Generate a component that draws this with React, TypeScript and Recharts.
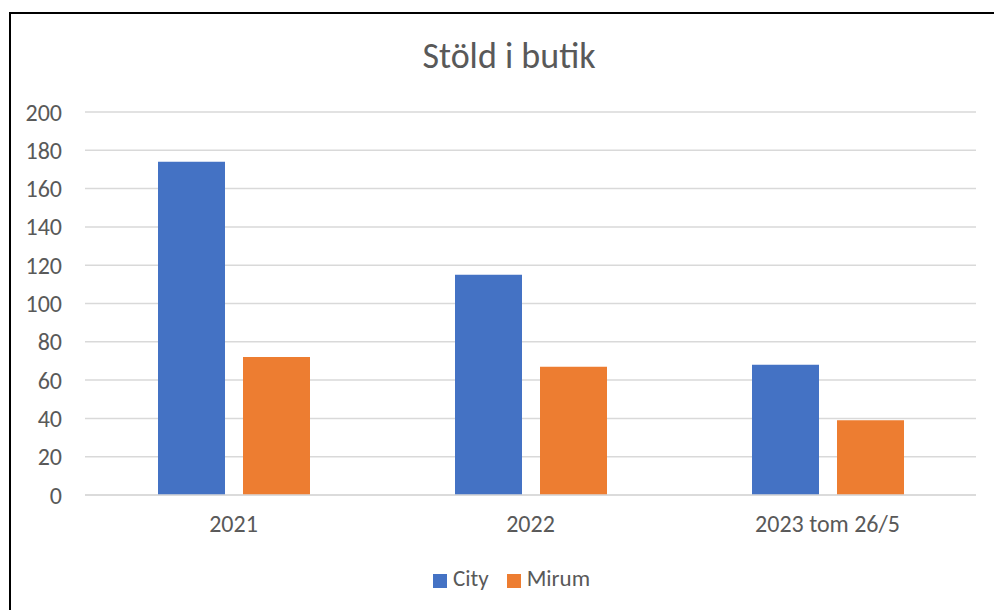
import React from "react";
import { BarChart, Bar, XAxis, YAxis, CartesianGrid, Legend } from "recharts";

const categories = ["2021", "2022", "2023 tom 26/5"];
const cityValues = [174, 115, 68];
const mirumValues = [72, 67, 39];
const yTicks = [0, 20, 40, 60, 80, 100, 120, 140, 160, 180, 200];

const data = categories.map((name, i) => ({
  name,
  City: cityValues[i],
  Mirum: mirumValues[i],
}));

const FONT = "Calibri, Carlito, Lato, 'Open Sans', sans-serif";
const TEXT = "#595959";

export default function App() {
  return (
    <div
      style={{
        position: "absolute",
        left: 9,
        top: 12,
        width: 1000,
        height: 610,
        borderTop: "2px solid #000",
        borderLeft: "2px solid #000",
        background: "#fff",
        fontFamily: FONT,
      }}
    >
      <div
        style={{
          position: "absolute",
          left: 0,
          width: 996,
          top: 21,
          textAlign: "center",
          fontSize: 36,
          lineHeight: "42px",
          color: TEXT,
        }}
      >
        Stöld i butik
      </div>
      <div style={{ position: "absolute", left: 0, top: 0 }}>
        <BarChart
          width={983}
          height={596}
          data={data}
          margin={{ top: 98, right: 18, left: 14, bottom: 75 }}
          barSize={67}
          barGap={18}
        >
          <CartesianGrid vertical={false} stroke="#d9d9d9" strokeWidth={1.5} />
          <XAxis
            dataKey="name"
            height={40}
            axisLine={{ stroke: "#d9d9d9", strokeWidth: 1.5 }}
            tickLine={false}
            tickMargin={14}
            tick={{ fill: TEXT, fontSize: 24, fontFamily: FONT }}
          />
          <YAxis
            width={60}
            domain={[0, 200]}
            ticks={yTicks}
            axisLine={false}
            tickLine={false}
            tickMargin={17}
            tick={{ fill: TEXT, fontSize: 24, fontFamily: FONT }}
          />
          <Legend
            verticalAlign="middle"
            align="center"
            iconType="square"
            iconSize={14}
            wrapperStyle={{ top: 550, left: 34, fontSize: 23, fontFamily: FONT }}
            formatter={(value) => (
              <span style={{ color: TEXT, marginLeft: 2, marginRight: 8 }}>{value}</span>
            )}
          />
          <Bar dataKey="City" fill="#4472C4" isAnimationActive={false} />
          <Bar dataKey="Mirum" fill="#ED7D31" isAnimationActive={false} />
        </BarChart>
      </div>
    </div>
  );
}
